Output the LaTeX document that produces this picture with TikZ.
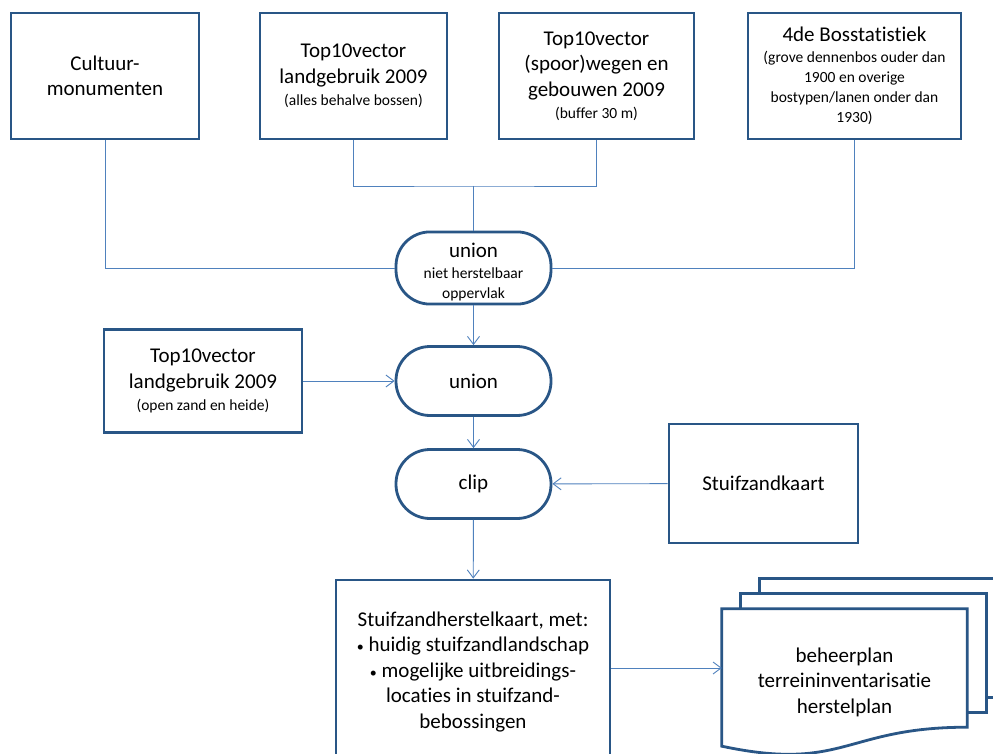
\documentclass[tikz,border=0pt]{standalone}
\usepackage{fontspec}
\setmainfont[Ligatures={NoCommon}]{Carlito}
\usetikzlibrary{arrows.meta}
\definecolor{boxblue}{RGB}{41,86,134}
\definecolor{lineblue}{RGB}{79,129,189}
\newcommand{\subtxt}[1]{{\fontsize{15.5}{20}\selectfont #1}}
\newcommand{\dotitem}{{\fontsize{14}{14}\selectfont\textbullet}\ }

\begin{document}
\begin{tikzpicture}[x=1pt, y=-1pt,
  font=\fontsize{21}{25.5}\selectfont,
  source/.style={draw=boxblue, line width=2.8pt, fill=white, align=center, inner sep=2pt},
  proc/.style={draw=boxblue, line width=2.8pt, fill=white, rounded corners=34pt,
    minimum width=155pt, minimum height=69pt, align=center},
  docline/.style={draw=boxblue, line width=2.8pt, fill=white},
  link/.style={draw=lineblue, line width=0.9pt},
  flow/.style={link, -{Straight Barb[length=8pt,width=12pt]}}]
  \fill[white] (0,0) rectangle (993,754);
  \useasboundingbox (0,0) rectangle (993,754);
  \clip (0,0) rectangle (993,754);

  % sources on top
  \node[source, minimum width=188pt, minimum height=126pt] (cult) at (105,76)
    {Cultuur-\\monumenten};
  \node[source, minimum width=187pt, minimum height=126pt] (lgb) at (353.5,76)
    {Top10vector\\landgebruik 2009\\[-3.5pt]\subtxt{(alles behalve bossen)}};
  \node[source, minimum width=195pt, minimum height=126pt] (weg) at (596.5,76)
    {Top10vector\\(spoor)wegen en\\gebouwen 2009\\[-3.5pt]\subtxt{(buffer 30 m)}};
  \node[source, minimum width=213pt, minimum height=126pt] (bos) at (854.5,76)
    {4de Bosstatistiek\\[-4pt]\subtxt{(grove dennenbos ouder dan}\\[-5.5pt]
     \subtxt{1900 en overige}\\[-5.5pt]\subtxt{bostypen/lanen onder dan}\\[-5.5pt]\subtxt{1930)}};

  % processing steps
  \node[proc] (un1) at (473.5,268) {\rule{0pt}{22pt}union\\[-4pt]\subtxt{niet herstelbaar}\\[-6pt]\subtxt{oppervlak}};
  \node[proc] (un2) at (473.5,381) {union};
  \node[proc] (clip) at (473.5,484) {clip};
  \node[source, minimum width=198pt, minimum height=103pt] (open) at (203,381)
    {Top10vector\\landgebruik 2009\\[-3.5pt]\subtxt{(open zand en heide)}};
  \node[source, minimum width=189pt, minimum height=119pt] (sk) at (763.5,483.5) {Stuifzandkaart};

  % result
  \node[source, minimum width=274pt, minimum height=184pt] (hk) at (473,672)
    {Stuifzandherstelkaart, met:\\\dotitem huidig stuifzandlandschap\\
     \dotitem mogelijke uitbreidings-\\locaties in stuifzand-\\bebossingen};

  % documents
  \node[minimum width=245pt, minimum height=118pt, inner sep=0pt] (doc) at (844.5,668) {};
  \foreach \d in {2,1}
    \draw[docline] ([shift={(19*\d,-15*\d)}]doc.north west)
      rectangle ([shift={(19*\d,-15*\d)}]doc.south east);
  \draw[docline] (doc.north west) -- (doc.north east) -- (doc.south east)
    .. controls ([xshift=-122.5pt]doc.south east) and ([xshift=-122.5pt, yshift=-45pt]doc.south east)
    .. ([yshift=-19pt]doc.south west) -- cycle;
  \node[align=center] (doctxt) at (844.5,682) {beheerplan\\terreininventarisatie\\herstelplan};

  % connectors
  \coordinate (merge) at (473.5,186);
  \draw[link] (lgb.south) |- (merge) -| (weg.south);
  \draw[link] (merge) -- (un1.north);
  \draw[link] (cult.south) |- (un1.west);
  \draw[link] (bos.south) |- (un1.east);
  \draw[flow] (un1) -- (un2);
  \draw[flow] (open) -- (un2);
  \draw[flow] (un2) -- (clip);
  \draw[flow] (sk) -- (clip);
  \draw[flow] (clip) -- (hk);
  \draw[flow] (hk.east |- doc.west) -- (doc.west);
\end{tikzpicture}
\end{document}
